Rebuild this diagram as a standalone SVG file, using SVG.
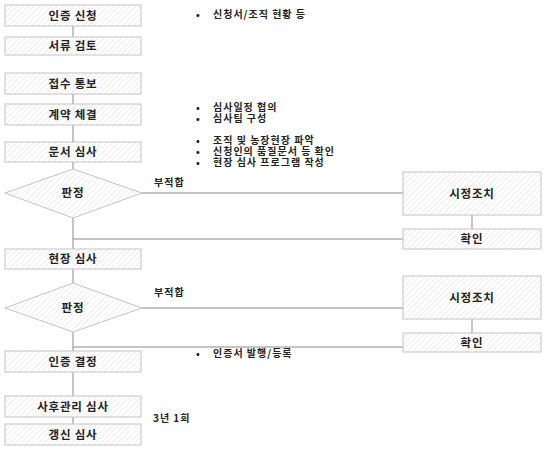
<svg xmlns="http://www.w3.org/2000/svg" width="549" height="452" viewBox="0 0 549 452">
<defs>
<pattern id="hatch" width="4" height="4" patternUnits="userSpaceOnUse" patternTransform="rotate(45)">
<rect width="4" height="4" fill="#ffffff"/>
<line x1="0" y1="0" x2="0" y2="4" stroke="#e2e2e2" stroke-width="1.2"/>
</pattern>
<style>
.box{fill:url(#hatch);stroke:#c4c4c4;stroke-width:1}
.lbl{font-family:"Noto Sans CJK KR","Noto Sans",sans-serif;font-size:11.5px;font-weight:bold;letter-spacing:0.8px;fill:#222;text-anchor:middle}
.note{font-family:"Noto Sans CJK KR","Noto Sans",sans-serif;font-size:10px;font-weight:bold;letter-spacing:1px;fill:#222}
.conn{stroke:#8a8a8a;stroke-width:1;fill:none}
</style>
</defs>
<rect width="549" height="452" fill="#ffffff"/>
<g id="connectors">
<line class="conn" x1="73" y1="26" x2="73" y2="37"/>
<line class="conn" x1="73" y1="94" x2="73" y2="104"/>
<line class="conn" x1="73" y1="125" x2="73" y2="142"/>
<line class="conn" x1="73" y1="162" x2="73" y2="169"/>
<line class="conn" x1="73" y1="218" x2="73" y2="249"/>
<line class="conn" x1="142" y1="193" x2="403" y2="193"/>
<line class="conn" x1="472" y1="215" x2="472" y2="229"/>
<line class="conn" x1="73" y1="239" x2="403" y2="239"/>
<line class="conn" x1="73" y1="269" x2="73" y2="283"/>
<line class="conn" x1="73" y1="332" x2="73" y2="351"/>
<line class="conn" x1="142" y1="308" x2="403" y2="308"/>
<line class="conn" x1="472" y1="319" x2="472" y2="333"/>
<line class="conn" x1="73" y1="347" x2="403" y2="347"/>
<line class="conn" x1="73" y1="372" x2="73" y2="396"/>
<line class="conn" x1="73" y1="417" x2="73" y2="424"/>
</g>
<g id="n1"><rect class="box" x="5" y="5" width="136" height="21"/><text class="lbl" x="73" y="19.5">인증 신청</text></g>
<g id="n2"><rect class="box" x="5" y="37" width="136" height="18"/><text class="lbl" x="73" y="50">서류 검토</text></g>
<g id="n3"><rect class="box" x="5" y="73" width="136" height="21"/><text class="lbl" x="73" y="87.5">접수 통보</text></g>
<g id="n4"><rect class="box" x="5" y="104" width="136" height="21"/><text class="lbl" x="73" y="118.5">계약 체결</text></g>
<g id="n5"><rect class="box" x="5" y="142" width="136" height="20"/><text class="lbl" x="73" y="156">문서 심사</text></g>
<g id="d1"><polygon class="box" points="73,169 142,193 73,218 5,193"/><text class="lbl" x="73" y="197">판정</text></g>
<g id="r1"><rect class="box" x="403" y="172" width="138" height="43"/><text class="lbl" x="472" y="197.5">시정조치</text></g>
<g id="c1"><rect class="box" x="403" y="229" width="138" height="20"/><text class="lbl" x="472" y="243">확인</text></g>
<g id="n6"><rect class="box" x="5" y="249" width="136" height="20"/><text class="lbl" x="73" y="263">현장 심사</text></g>
<g id="d2"><polygon class="box" points="73,283 142,308 73,332 5,308"/><text class="lbl" x="73" y="312">판정</text></g>
<g id="r2"><rect class="box" x="403" y="276" width="138" height="43"/><text class="lbl" x="472" y="301.5">시정조치</text></g>
<g id="c2"><rect class="box" x="403" y="333" width="138" height="19"/><text class="lbl" x="472" y="346.5">확인</text></g>
<g id="n7"><rect class="box" x="5" y="351" width="136" height="21"/><text class="lbl" x="73" y="365.5">인증 결정</text></g>
<g id="n8"><rect class="box" x="5" y="396" width="136" height="21"/><text class="lbl" x="73" y="410.5">사후관리 심사</text></g>
<g id="n9"><rect class="box" x="5" y="424" width="136" height="21"/><text class="lbl" x="73" y="438.5">갱신 심사</text></g>
<g id="notes">
<text class="note" x="196" y="18">•<tspan x="213">신청서/조직 현황 등</tspan></text>
<text class="note" x="196" y="111">•<tspan x="213">심사일정 협의</tspan><tspan x="196" y="122">•</tspan><tspan x="213" y="122">심사팀 구성</tspan></text>
<text class="note" x="196" y="144">•<tspan x="213">조직 및 농장현장 파악</tspan><tspan x="196" y="155">•</tspan><tspan x="213" y="155">신청인의 품질문서 등 확인</tspan><tspan x="196" y="166">•</tspan><tspan x="213" y="166">현장 심사 프로그램 작성</tspan></text>
<text class="note" x="196" y="357">•<tspan x="213">인증서 발행/등록</tspan></text>
<text class="note" x="154" y="186">부적합</text>
<text class="note" x="154" y="296">부적합</text>
<text class="note" x="153" y="422">3년 1회</text>
</g>
</svg>
